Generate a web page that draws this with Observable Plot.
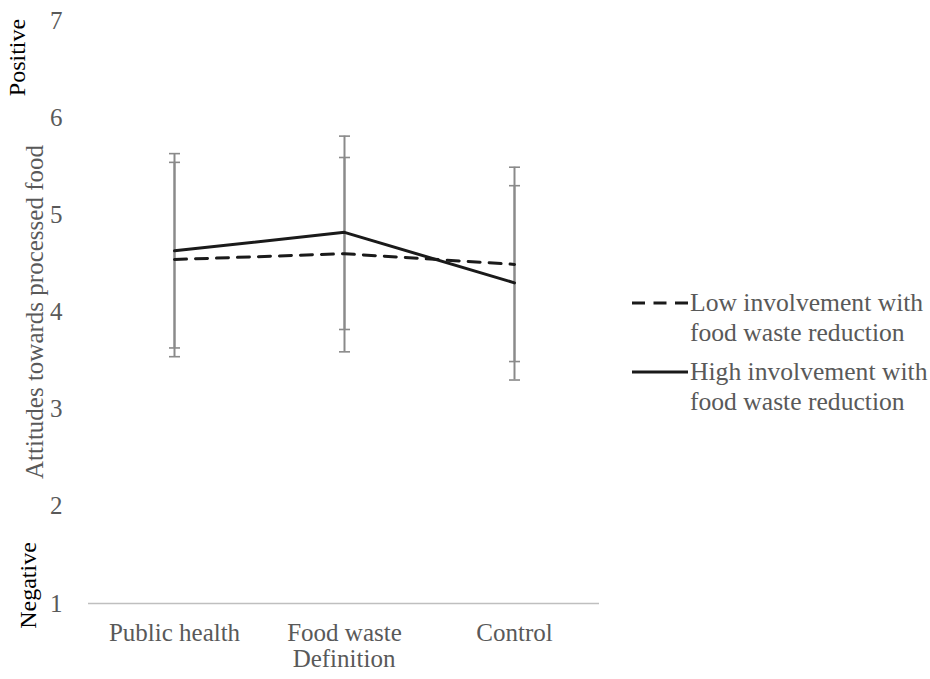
<!DOCTYPE html>
<html>
<head>
<meta charset="utf-8">
<script src="https://cdn.jsdelivr.net/npm/d3@7"></script>
<script src="https://cdn.jsdelivr.net/npm/@observablehq/plot@0.6"></script>
<style>
  body { margin: 0; background: #fff; }
  #chart { position: relative; width: 930px; height: 679px; font-family: "Liberation Serif", "Times New Roman", serif; }
  #legend { position: absolute; left: 630px; top: 280px; }
</style>
</head>
<body>
<div id="chart"></div>
<script>
// Experimental conditions on the x axis
const definitions = ["Public health", "Food waste", "Control"];

// Series labels (legend)
const seriesNames = ["Low involvement with food waste reduction", "High involvement with food waste reduction"];
const seriesLegendLines = [
  ["Low involvement with", "food waste reduction"],
  ["High involvement with", "food waste reduction"]
];

// Mean attitude scores and error-bar bounds, low involvement
const lowMeans = [4.54, 4.60, 4.49];
const lowUpper = [5.54, 5.59, 5.49];
const lowLower = [3.54, 3.59, 3.49];

// Mean attitude scores and error-bar bounds, high involvement
const highMeans = [4.63, 4.82, 4.30];
const highUpper = [5.63, 5.81, 5.30];
const highLower = [3.63, 3.82, 3.30];

// Rating scale ticks (1 = negative, 7 = positive)
const yTicks = [1, 2, 3, 4, 5, 6, 7];

const build = (series, means, lower, upper) =>
  definitions.map((d, i) => ({ definition: d, series, mean: means[i], lower: lower[i], upper: upper[i] }));

const lowRows = build(seriesNames[0], lowMeans, lowLower, lowUpper);
const highRows = build(seriesNames[1], highMeans, highLower, highUpper);
const allRows = [...lowRows, ...highRows];
const capRows = allRows.flatMap(r => [
  { definition: r.definition, value: r.lower },
  { definition: r.definition, value: r.upper }
]);

// Horizontal cap used at both ends of each error bar
const capSymbol = {
  draw(context, size) {
    const r = Math.sqrt(size / Math.PI);
    context.moveTo(-r, 0);
    context.lineTo(r, 0);
  }
};

const textColor = "#595959";
const errColor = "#8a8a8a";
const lineColor = "#1a1a1a";

const plot = Plot.plot({
  width: 930,
  height: 679,
  marginLeft: 88,
  marginRight: 331,
  marginTop: 20,
  marginBottom: 76,
  style: {
    fontFamily: '"Liberation Serif", "Times New Roman", serif',
    fontSize: "25px",
    color: textColor,
    background: "#fff",
    overflow: "visible"
  },
  x: { type: "point", domain: definitions, padding: 0.5, tickSize: 0, tickPadding: 20, label: null },
  y: { domain: [1, 7], ticks: yTicks, tickFormat: d => String(d), tickSize: 0, tickPadding: 26, label: null },
  marks: [
    Plot.ruleY([1], { stroke: "#bfbfbf", strokeWidth: 1.3 }),
    Plot.ruleX(allRows, { x: "definition", y1: "lower", y2: "upper", stroke: errColor, strokeWidth: 2 }),
    Plot.dot(capRows, { x: "definition", y: "value", symbol: capSymbol, r: 5.5, fill: "none", stroke: errColor, strokeWidth: 1.6 }),
    Plot.line(lowRows, { x: "definition", y: "mean", stroke: lineColor, strokeWidth: 3, strokeDasharray: "12,9" }),
    Plot.line(highRows, { x: "definition", y: "mean", stroke: lineColor, strokeWidth: 3 }),
    Plot.text(["Attitudes towards processed food"], { frameAnchor: "left", dx: -54, rotate: -90, textAnchor: "middle", lineAnchor: "middle", fill: textColor }),
    Plot.text(["Positive"], { frameAnchor: "top-left", dx: -71, dy: 37, rotate: -90, textAnchor: "middle", lineAnchor: "middle", fontSize: 24, fill: "#000" }),
    Plot.text(["Negative"], { frameAnchor: "bottom-left", dx: -60, dy: -18, rotate: -90, textAnchor: "middle", lineAnchor: "middle", fontSize: 24, fill: "#000" }),
    Plot.text(["Definition"], { frameAnchor: "bottom", dy: 55, textAnchor: "middle", lineAnchor: "middle", fill: textColor })
  ]
});

const chart = document.getElementById("chart");
chart.appendChild(plot);

// Legend: line samples with two-line labels
const legend = d3.create("svg")
  .attr("id", "legend")
  .attr("width", 300)
  .attr("height", 140)
  .style("font-family", '"Liberation Serif", "Times New Roman", serif')
  .style("font-size", "25.6px");

const legendItems = [
  { lines: seriesLegendLines[0], dash: "13,8.5", y: 23 },
  { lines: seriesLegendLines[1], dash: null, y: 92 }
];
legendItems.forEach(item => {
  legend.append("line")
    .attr("x1", 2).attr("x2", 58)
    .attr("y1", item.y).attr("y2", item.y)
    .attr("stroke", lineColor).attr("stroke-width", 3)
    .attr("stroke-dasharray", item.dash);
  item.lines.forEach((t, j) => {
    legend.append("text")
      .attr("x", 60).attr("y", item.y + 8 + j * 30)
      .attr("fill", textColor)
      .text(t);
  });
});
chart.appendChild(legend.node());
</script>
</body>
</html>
